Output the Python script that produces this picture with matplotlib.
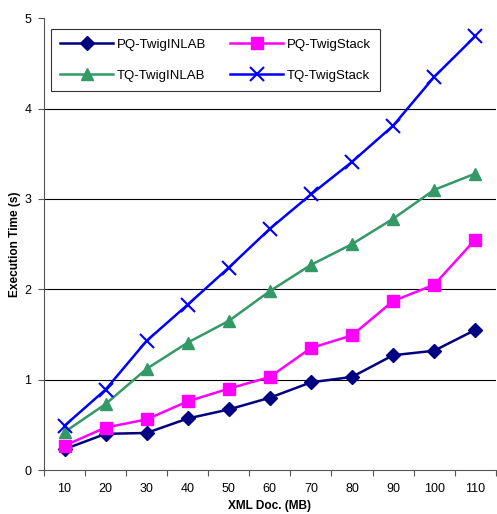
import matplotlib
matplotlib.use("Agg")
import matplotlib.pyplot as plt
import numpy as np

plt.rcParams['font.family'] = ['Liberation Sans', 'DejaVu Sans']

# data
sizes = ["10", "20", "30", "40", "50", "60", "70", "80", "90", "100", "110"]
pq_inlab = [0.23, 0.40, 0.41, 0.57, 0.67, 0.80, 0.97, 1.03, 1.27, 1.32, 1.55]
pq_stack = [0.27, 0.47, 0.56, 0.76, 0.90, 1.03, 1.35, 1.49, 1.87, 2.05, 2.55]
tq_inlab = [0.42, 0.73, 1.12, 1.41, 1.65, 1.98, 2.27, 2.50, 2.78, 3.10, 3.28]
tq_stack = [0.49, 0.89, 1.43, 1.83, 2.24, 2.67, 3.05, 3.41, 3.81, 4.35, 4.80]

fig = plt.figure(figsize=(4.97, 5.14), dpi=100)
ax = fig.add_axes([0.0885, 0.0856, 0.909, 0.879])

x = np.arange(len(sizes))
l1, = ax.plot(x, pq_inlab, color="#000080", marker="D", markersize=7, lw=1.8, label="PQ-TwigINLAB")
l2, = ax.plot(x, pq_stack, color="#FF00FF", marker="s", markersize=8, lw=1.8, label="PQ-TwigStack")
l3, = ax.plot(x, tq_inlab, color="#339966", marker="^", markersize=9, lw=1.8, label="TQ-TwigINLAB")
l4, = ax.plot(x, tq_stack, color="#0000FF", marker="x", markersize=10, mew=1.5, lw=1.8, label="TQ-TwigStack")

ax.set_xlim(-0.5, len(sizes) - 0.5)
ax.set_ylim(0, 5)
ax.set_yticks([0, 1, 2, 3, 4, 5])
for yv in [1, 2, 3, 4]:
    ax.axhline(yv, color="black", lw=0.8, zorder=0)

# ticks at category boundaries, labels at centres
ax.set_xticks(np.arange(-0.5, len(sizes)))
ax.set_xticklabels([])
ax.set_xticks(x, minor=True)
ax.set_xticklabels(sizes, minor=True)
ax.tick_params(axis="x", which="minor", length=0, pad=9, labelsize=9)
ax.tick_params(axis="x", which="major", length=4, color="#555555")
ax.tick_params(axis="y", length=4, labelsize=9, pad=5, color="#555555")

for s in ["top", "right"]:
    ax.spines[s].set_visible(False)
ax.spines["left"].set_color("#555555")
ax.spines["bottom"].set_color("#555555")

ax.set_ylabel("Execution Time (s)", fontsize=8.6, fontweight="bold")
ax.yaxis.set_label_coords(-0.050, 0.5)
ax.set_xlabel("XML Doc. (MB)", fontsize=8.6, fontweight="bold")
ax.xaxis.set_label_coords(0.5, -0.066)

leg = ax.legend([l1, l3, l2, l4], ["PQ-TwigINLAB", "TQ-TwigINLAB", "PQ-TwigStack", "TQ-TwigStack"],
                ncol=2, loc="upper left", bbox_to_anchor=(0.016, 0.975), borderaxespad=0,
                fontsize=9.5, handlelength=4, frameon=True, fancybox=False, edgecolor="black",
                columnspacing=1.8, labelspacing=1.4, handletextpad=0.3, borderpad=0.7)
leg.get_frame().set_linewidth(0.8)

fig.savefig("out.png", dpi=100)
